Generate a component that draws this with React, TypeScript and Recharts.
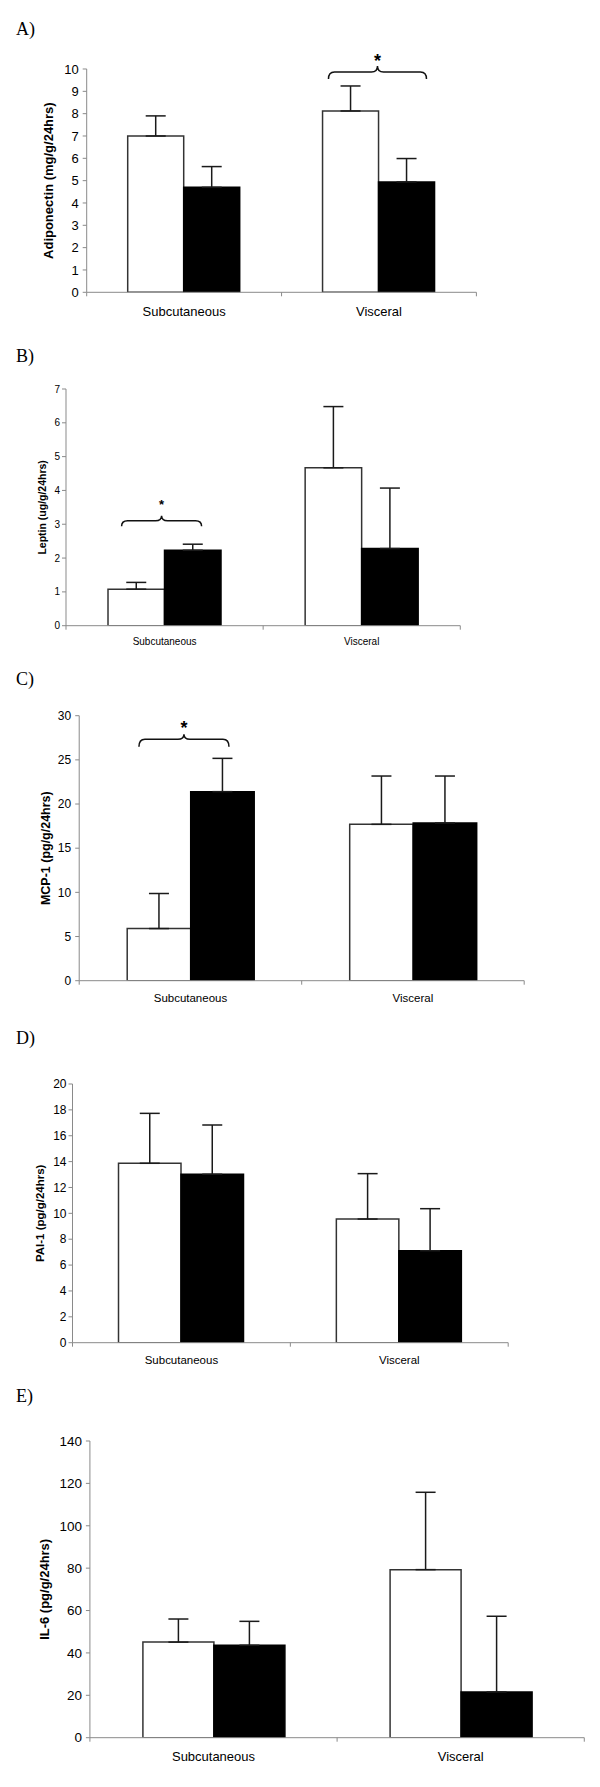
import React from 'react';
import { BarChart, Bar, XAxis, YAxis, ErrorBar, ReferenceDot } from 'recharts';

const CATEGORIES = ['Subcutaneous', 'Visceral'];

// A) Adiponectin
const ADIPO_WHITE = [7.0, 8.12];
const ADIPO_WHITE_ERR = [0.9, 1.12];
const ADIPO_BLACK = [4.7, 4.94];
const ADIPO_BLACK_ERR = [0.93, 1.05];
const ADIPO_TICKS = [0, 1, 2, 3, 4, 5, 6, 7, 8, 9, 10];

// B) Leptin
const LEPTIN_WHITE = [1.08, 4.67];
const LEPTIN_WHITE_ERR = [0.2, 1.81];
const LEPTIN_BLACK = [2.23, 2.28];
const LEPTIN_BLACK_ERR = [0.18, 1.79];
const LEPTIN_TICKS = [0, 1, 2, 3, 4, 5, 6, 7];

// C) MCP-1
const MCP_WHITE = [5.9, 17.7];
const MCP_WHITE_ERR = [3.97, 5.47];
const MCP_BLACK = [21.4, 17.85];
const MCP_BLACK_ERR = [3.77, 5.32];
const MCP_TICKS = [0, 5, 10, 15, 20, 25, 30];

// D) PAI-1
const PAI_WHITE = [13.87, 9.56];
const PAI_WHITE_ERR = [3.86, 3.51];
const PAI_BLACK = [13.02, 7.11];
const PAI_BLACK_ERR = [3.81, 3.25];
const PAI_TICKS = [0, 2, 4, 6, 8, 10, 12, 14, 16, 18, 20];

// E) IL-6
const IL6_WHITE = [45.1, 79.3];
const IL6_WHITE_ERR = [10.9, 36.5];
const IL6_BLACK = [43.6, 21.55];
const IL6_BLACK_ERR = [11.3, 35.75];
const IL6_TICKS = [0, 20, 40, 60, 80, 100, 120, 140];

const AXIS = '#8a8a8a';
const SANS = '"Liberation Sans", Arial, sans-serif';

interface Brace {
  category: string;
  value: number;
  half: number;
  dx: number;
  drop: number;
  tip: number;
  starSize: number;
  starLift: number;
}

interface Panel {
  title: string;
  titleTop: number;
  yLabel: string;
  white: number[];
  whiteErr: number[];
  black: number[];
  blackErr: number[];
  ticks: number[];
  top: number;
  plotTop: number;
  plotBottom: number;
  plotLeft: number;
  plotRight: number;
  barSize: number;
  tickFont: number;
  tickMargin: number;
  xFont: number;
  xOffset: number;
  yLabelFont: number;
  yLabelX: number;
  brace?: Brace;
}

const PANELS: Panel[] = [
  {
    title: 'A)', titleTop: 20, yLabel: 'Adiponectin (mg/g/24hrs)',
    white: ADIPO_WHITE, whiteErr: ADIPO_WHITE_ERR, black: ADIPO_BLACK, blackErr: ADIPO_BLACK_ERR,
    ticks: ADIPO_TICKS, top: 0, plotTop: 69, plotBottom: 292.3, plotLeft: 86.7, plotRight: 476.4,
    barSize: 56, tickFont: 13, tickMargin: 4, xFont: 13, xOffset: 19.4, yLabelFont: 13, yLabelX: 48.5,
    brace: { category: 'Visceral', value: 9.87, half: 49, dx: -1.5, drop: 7, tip: 6, starSize: 18, starLift: 4.6 },
  },
  {
    title: 'B)', titleTop: 347, yLabel: 'Leptin (ug/g/24hrs)',
    white: LEPTIN_WHITE, whiteErr: LEPTIN_WHITE_ERR, black: LEPTIN_BLACK, blackErr: LEPTIN_BLACK_ERR,
    ticks: LEPTIN_TICKS, top: 330, plotTop: 389, plotBottom: 625.7, plotLeft: 66, plotRight: 460.3,
    barSize: 56.5, tickFont: 10, tickMargin: 2, xFont: 10, xOffset: 16, yLabelFont: 10.5, yLabelX: 43,
    brace: { category: 'Subcutaneous', value: 3.1, half: 40, dx: -3, drop: 5.5, tip: 5, starSize: 13, starLift: 11.5 },
  },
  {
    title: 'C)', titleTop: 670, yLabel: 'MCP-1 (pg/g/24hrs)',
    white: MCP_WHITE, whiteErr: MCP_WHITE_ERR, black: MCP_BLACK, blackErr: MCP_BLACK_ERR,
    ticks: MCP_TICKS, top: 650, plotTop: 715.7, plotBottom: 980.7, plotLeft: 79.2, plotRight: 524.2,
    barSize: 63.5, tickFont: 12, tickMargin: 4, xFont: 11.5, xOffset: 17, yLabelFont: 12.5, yLabelX: 46,
    brace: { category: 'Subcutaneous', value: 27.33, half: 45, dx: -6.5, drop: 7.5, tip: 5, starSize: 18, starLift: 4.9 },
  },
  {
    title: 'D)', titleTop: 1029, yLabel: 'PAI-1 (pg/g/24hrs)',
    white: PAI_WHITE, whiteErr: PAI_WHITE_ERR, black: PAI_BLACK, blackErr: PAI_BLACK_ERR,
    ticks: PAI_TICKS, top: 1000, plotTop: 1084, plotBottom: 1342.7, plotLeft: 72.5, plotRight: 508.2,
    barSize: 62.5, tickFont: 12, tickMargin: 2, xFont: 11.5, xOffset: 17.3, yLabelFont: 11.5, yLabelX: 40.2,
  },
  {
    title: 'E)', titleTop: 1387, yLabel: 'IL-6 (pg/g/24hrs)',
    white: IL6_WHITE, whiteErr: IL6_WHITE_ERR, black: IL6_BLACK, blackErr: IL6_BLACK_ERR,
    ticks: IL6_TICKS, top: 1380, plotTop: 1441, plotBottom: 1737.7, plotLeft: 89.9, plotRight: 584.3,
    barSize: 71, tickFont: 13.5, tickMargin: 4, xFont: 13, xOffset: 19, yLabelFont: 13, yLabelX: 45,
  },
];

function BraceMark({ cx, cy, b }: { cx: number; cy: number; b: Brace }) {
  const x = cx + b.dx;
  const r = 6;
  const d = [
    `M ${x - b.half} ${cy + b.drop}`,
    `Q ${x - b.half} ${cy} ${x - b.half + r} ${cy}`,
    `L ${x - r} ${cy}`,
    `Q ${x} ${cy} ${x} ${cy - b.tip}`,
    `Q ${x} ${cy} ${x + r} ${cy}`,
    `L ${x + b.half - r} ${cy}`,
    `Q ${x + b.half} ${cy} ${x + b.half} ${cy + b.drop}`,
  ].join(' ');
  return (
    <g>
      <path d={d} fill="none" stroke="#111" strokeWidth={1.5} />
      <text x={x} y={cy - b.starLift} textAnchor="middle" fontFamily={SANS} fontWeight="bold"
        fontSize={b.starSize} fill="#000">*</text>
    </g>
  );
}

function PanelChart({ p }: { p: Panel }) {
  const rows = CATEGORIES.map((name, i) => ({
    name,
    white: p.white[i],
    whiteErr: [0, p.whiteErr[i]],
    black: p.black[i],
    blackErr: [0, p.blackErr[i]],
  }));
  const xAxisHeight = 40;
  const height = p.plotBottom - p.top + xAxisHeight;
  const axisY = p.plotBottom - p.top;
  const half = (p.plotRight - p.plotLeft) / 4;
  const labelY = (p.plotTop + p.plotBottom) / 2 - p.top;

  const xTick = (props: any) => {
    const { x, payload, index } = props;
    const marks = index === 0 ? [x - half, x + half] : [x + half];
    return (
      <g>
        {marks.map((m, k) => (
          <line key={k} x1={m} x2={m} y1={axisY} y2={axisY + 4} stroke={AXIS} strokeWidth={1} />
        ))}
        <text x={x} y={axisY + p.xOffset} textAnchor="middle" dominantBaseline="central"
          fontFamily={SANS} fontSize={p.xFont} fill="#000">{payload.value}</text>
      </g>
    );
  };

  const yLabel = () => (
    <text x={p.yLabelX} y={labelY} transform={`rotate(-90, ${p.yLabelX}, ${labelY})`}
      textAnchor="middle" dominantBaseline="central" fontFamily={SANS} fontWeight="bold"
      fontSize={p.yLabelFont} fill="#000">{p.yLabel}</text>
  );

  const max = p.ticks[p.ticks.length - 1];

  return (
    <div style={{ position: 'absolute', left: 0, top: p.top, width: 600, height }}>
      <BarChart
        width={600}
        height={height}
        data={rows}
        barGap={0}
        barSize={p.barSize}
        margin={{ top: p.plotTop - p.top, right: 600 - p.plotRight, bottom: 0, left: 0 }}
      >
        <XAxis
          dataKey="name"
          height={xAxisHeight}
          interval={0}
          tickLine={false}
          tickSize={0}
          tickMargin={0}
          axisLine={{ stroke: AXIS, strokeWidth: 1 }}
          tick={xTick}
        />
        <YAxis
          width={p.plotLeft}
          domain={[0, max]}
          ticks={p.ticks}
          interval={0}
          allowDataOverflow
          tickSize={4}
          tickMargin={p.tickMargin}
          tickLine={{ stroke: AXIS, strokeWidth: 1 }}
          axisLine={{ stroke: AXIS, strokeWidth: 1 }}
          tick={{ fill: '#000', fontSize: p.tickFont, fontFamily: SANS }}
          label={{ content: yLabel }}
        />
        <Bar dataKey="white" fill="#fff" stroke="#333" strokeWidth={1.5} isAnimationActive={false}>
          <ErrorBar dataKey="whiteErr" direction="y" width={10} stroke="#1a1a1a" strokeWidth={1.5}
            isAnimationActive={false} />
        </Bar>
        <Bar dataKey="black" fill="#000" stroke="#000" strokeWidth={1.5} isAnimationActive={false}>
          <ErrorBar dataKey="blackErr" direction="y" width={10} stroke="#1a1a1a" strokeWidth={1.5}
            isAnimationActive={false} />
        </Bar>
        {p.brace && (
          <ReferenceDot
            x={p.brace.category}
            y={p.brace.value}
            ifOverflow="visible"
            shape={(sp: any) => <BraceMark cx={sp.cx} cy={sp.cy} b={p.brace as Brace} />}
          />
        )}
      </BarChart>
    </div>
  );
}

export default function App() {
  return (
    <div style={{ position: 'absolute', left: 0, top: 0, width: 600, height: 1787, background: '#fff' }}>
      {PANELS.map((p) => (
        <React.Fragment key={p.title}>
          <div
            style={{
              position: 'absolute', left: 16, top: p.titleTop, fontFamily: '"Liberation Serif", "Times New Roman", serif',
              fontSize: 18, lineHeight: '18px', color: '#000',
            }}
          >
            {p.title}
          </div>
          <PanelChart p={p} />
        </React.Fragment>
      ))}
    </div>
  );
}
